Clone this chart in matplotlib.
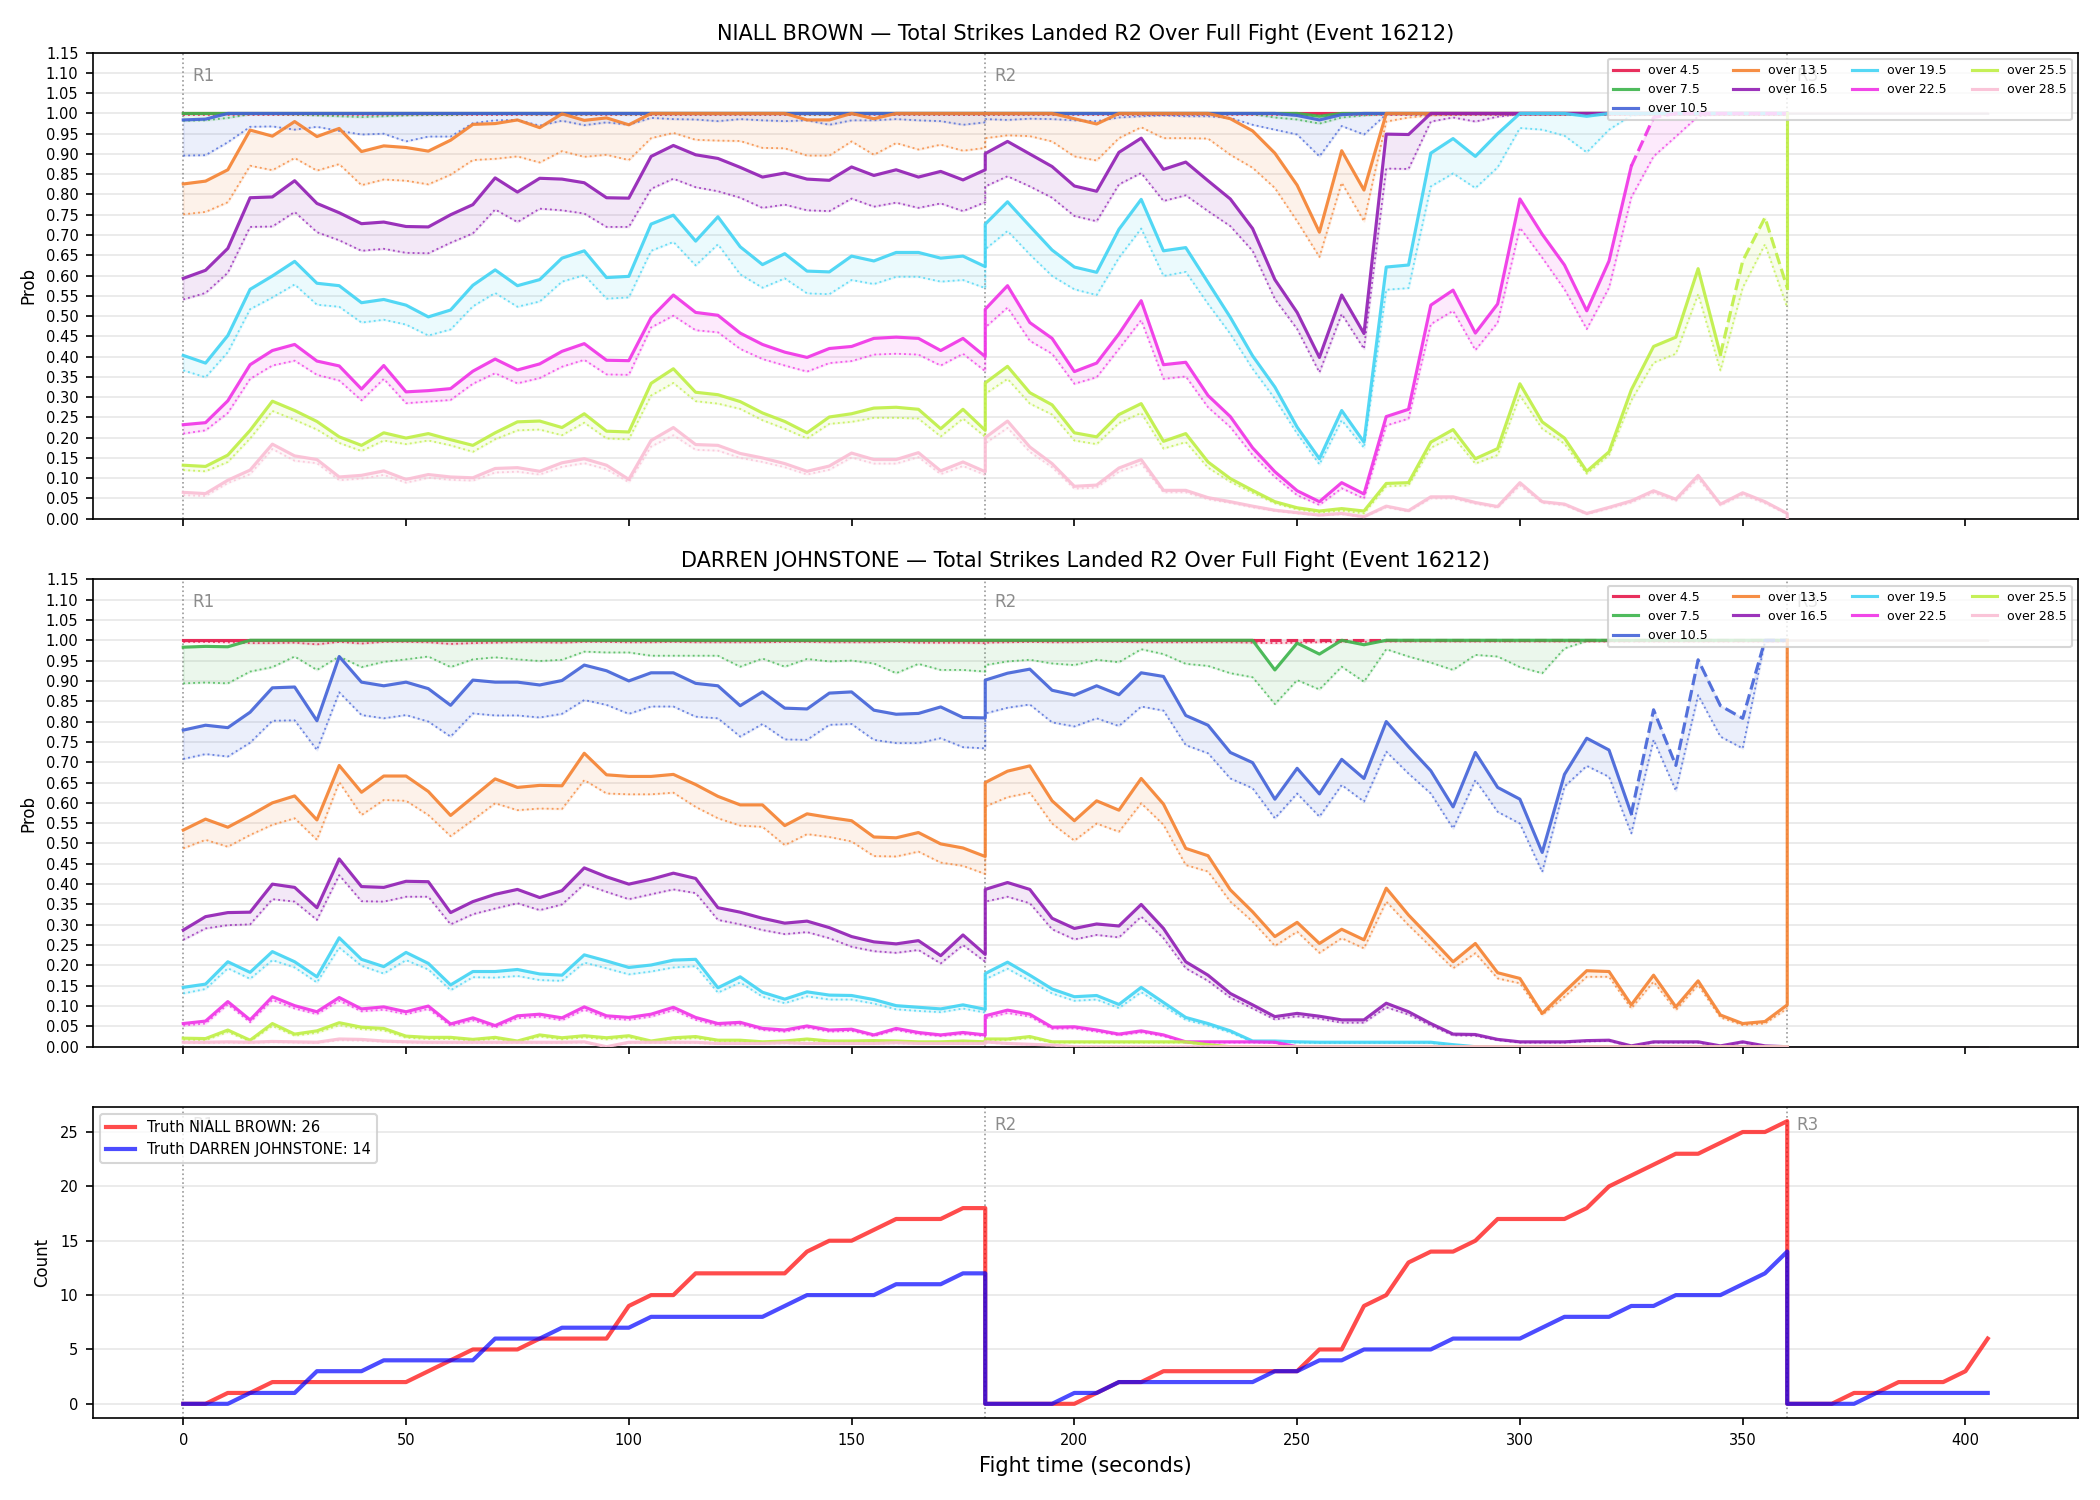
import matplotlib
matplotlib.use("Agg")
import matplotlib.pyplot as plt
import numpy as np

# ---------------- time grid (seconds of fight time) ----------------
T_R1 = list(range(0, 181, 5))
T_R2 = list(range(180, 361, 5))
T_R3 = list(range(360, 406, 5))

LINES = ["over 4.5", "over 7.5", "over 10.5", "over 13.5", "over 16.5",
         "over 19.5", "over 22.5", "over 25.5", "over 28.5"]
COLORS = ["#e6194b", "#3cb44b", "#4363d8", "#f58231", "#911eb4",
          "#42d4f4", "#f032e6", "#bfef45", "#fabed4"]

# ================= NIALL BROWN (top panel) =================
NB_O45 = [1,1,1,1,1,1,1,1,1,1, 1,1,1,1,1,1,1,1,1,1, 1,1,1,1,1,1,1,1,1,1, 1,1,1,1,1,1,1,
          1,1,1,1,1,1,1,1,1,1, 1,1,1,1,1,1,1,1,1,1, 1,1,1,1,1,1,1,1,1,1, 1,1,1,1,1,1,1]
NB_O45_LO = [0.997,0.997,0.997,0.997,0.997,0.997,0.997,0.997,0.997,0.997, 0.997,0.997,0.997,0.997,0.997,0.997,0.997,0.997,0.997,0.997,
             0.997,0.997,0.997,0.997,0.997,0.997,0.997,0.997,0.997,0.997, 0.997,0.997,0.997,0.997,0.997,0.997,0.997,
             0.997,0.997,0.997,0.997,0.997,0.997,0.997,0.997,0.997,0.997, 0.997,0.997,0.997,0.997,0.997,0.997,0.997,0.997,0.997,0.997,
             0.997,0.997,0.997,0.997,0.997,0.997,0.997,0.997,0.997,0.997, 0.997,0.997,0.997,0.997,0.997,0.997,0.997]
NB_O75 = [1,1,1,1,1,1,1,1,1,1, 1,1,1,1,1,1,1,1,1,1, 1,1,1,1,1,1,1,1,1,1, 1,1,1,1,1,1,1,
          1,1,1,1,1,1,1,1,1,1, 1,1,1,1,1,0.993,1,1,1,1, 1,1,1,1,1,1,1,1,1,1, 1,1,1,1,1,1,1]
NB_O75_LO = [0.982,0.983,0.989,0.998,0.998,0.997,0.995,0.993,0.991,0.993, 0.995,0.996,0.996,0.998,0.998,0.998,0.997,0.998,0.997,0.998,
             0.997,0.998,0.998,0.998,0.998,0.998,0.998,0.998,0.997,0.997, 0.998,0.998,0.998,0.998,0.998,0.998,0.998,
             0.998,0.998,0.998,0.998,0.998,0.998,0.998,0.998,0.998,0.998, 0.998,0.998,0.998,0.990,0.985,0.975,0.990,0.995,0.998,0.998,
             0.998,0.998,0.998,0.998,0.998,0.998,0.998,0.998,0.998,0.998, 0.998,0.998,0.998,0.998,0.998,0.998,0.998]
NB_O105 = [0.984,0.986,1,1,1,1,1,1,1,1, 1,1,1,1,1,1,1,1,1,1, 1,1,1,1,1,1,1,1,1,1, 1,1,1,1,1,1,1,
           1,1,1,1,1,1,1,1,1,1, 1,1,1,1,0.995,0.984,0.997,1,1,1, 1,1,1,1,1,1,1,1,1,1, 1,1,1,1,1,1,1]
NB_O105_LO = [0.896,0.897,0.929,0.967,0.968,0.960,0.967,0.957,0.948,0.950, 0.931,0.943,0.943,0.976,0.983,0.984,0.970,0.982,0.971,0.978,
              0.972,0.989,0.986,0.985,0.981,0.986,0.983,0.981,0.983,0.972, 0.983,0.983,0.986,0.983,0.981,0.972,0.978,
              0.986,0.984,0.987,0.986,0.983,0.981,0.990,0.993,0.995,0.993, 0.993,0.989,0.972,0.960,0.948,0.894,0.969,0.948,0.998,0.998,
              0.998,0.998,0.998,0.998,0.998,0.998,0.998,0.998,0.998,0.998, 0.998,0.998,0.998,0.998,0.998,0.998,0.998]
NB_O135 = [0.826,0.833,0.861,0.959,0.944,0.980,0.943,0.963,0.906,0.920, 0.916,0.907,0.934,0.973,0.975,0.984,0.965,0.999,0.983,0.989,
           0.972,1,1,1,1,1,1,1,0.984,0.984, 1,0.987,1,1,1,1,1,
           1,1,1,1,0.987,0.974,1,1,1,1, 1,0.987,0.957,0.902,0.823,0.707,0.908,0.811,1,1,
           1,1,1,1,1,1,1,1,1,1, 1,1,1,1,1,1,1]
NB_O135_LO = [0.751,0.757,0.781,0.871,0.860,0.890,0.859,0.875,0.823,0.837, 0.834,0.825,0.849,0.885,0.888,0.894,0.879,0.907,0.893,0.898,
              0.885,0.939,0.952,0.935,0.933,0.932,0.915,0.914,0.896,0.896, 0.931,0.898,0.927,0.911,0.923,0.908,0.915,
              0.939,0.946,0.944,0.931,0.894,0.884,0.939,0.966,0.939,0.939, 0.938,0.898,0.866,0.816,0.734,0.646,0.829,0.734,0.980,0.990,
              0.995,0.997,0.998,0.998,0.998,0.998,0.998,0.998,0.998,0.998, 0.998,0.998,0.998,0.998,0.998,0.998,0.998]
NB_O165 = [0.593,0.613,0.667,0.792,0.794,0.834,0.778,0.755,0.728,0.732, 0.721,0.720,0.750,0.775,0.841,0.806,0.840,0.838,0.829,0.792,
           0.791,0.894,0.921,0.898,0.889,0.867,0.843,0.853,0.838,0.835, 0.868,0.847,0.861,0.843,0.857,0.836,0.861,
           0.901,0.931,0.900,0.869,0.821,0.808,0.904,0.939,0.862,0.880, 0.834,0.789,0.716,0.590,0.509,0.398,0.552,0.457,0.949,0.948,
           1,1,1,1,1,1,1,1,1,1, 1,1,1,1,1,1,1]
NB_O165_LO = [0.541,0.557,0.607,0.720,0.721,0.757,0.707,0.687,0.661,0.666, 0.656,0.655,0.681,0.704,0.763,0.732,0.765,0.761,0.753,0.720,
              0.720,0.814,0.839,0.818,0.808,0.792,0.767,0.775,0.761,0.759, 0.790,0.770,0.780,0.767,0.778,0.759,0.781,
              0.820,0.845,0.820,0.792,0.747,0.734,0.825,0.853,0.784,0.798, 0.759,0.722,0.661,0.542,0.468,0.361,0.505,0.419,0.864,0.863,
              0.980,0.990,0.980,0.992,0.998,0.998,0.998,0.998,0.998,0.998, 0.998,0.998,0.998,0.998,0.998,0.998,0.998]
NB_O195 = [0.403,0.384,0.452,0.566,0.599,0.635,0.581,0.575,0.533,0.541, 0.527,0.498,0.515,0.576,0.614,0.575,0.590,0.643,0.661,0.595,
           0.598,0.727,0.749,0.685,0.745,0.671,0.627,0.654,0.611,0.609, 0.648,0.636,0.657,0.657,0.643,0.648,0.622,
           0.727,0.782,0.722,0.663,0.621,0.608,0.714,0.788,0.661,0.669, 0.583,0.497,0.402,0.325,0.226,0.148,0.267,0.189,0.621,0.626,
           0.902,0.938,0.894,0.950,1,1,1,0.993,1,1, 1,1,1,1,1,1,1]
NB_O195_LO = [0.366,0.349,0.411,0.517,0.546,0.578,0.528,0.523,0.484,0.491, 0.479,0.452,0.467,0.524,0.557,0.523,0.536,0.585,0.601,0.543,
              0.546,0.661,0.683,0.625,0.677,0.603,0.570,0.593,0.556,0.554, 0.589,0.579,0.597,0.597,0.585,0.589,0.569,
              0.665,0.710,0.652,0.599,0.566,0.552,0.644,0.716,0.599,0.609, 0.530,0.456,0.370,0.296,0.210,0.134,0.243,0.175,0.565,0.569,
              0.820,0.852,0.816,0.867,0.964,0.960,0.945,0.904,0.960,0.995, 0.998,0.998,0.998,0.998,0.998,0.998,0.998]
NB_O225 = [0.232,0.237,0.291,0.380,0.415,0.430,0.389,0.377,0.320,0.378, 0.313,0.316,0.321,0.364,0.394,0.367,0.382,0.413,0.432,0.391,
           0.390,0.496,0.552,0.509,0.502,0.458,0.430,0.411,0.398,0.420, 0.425,0.445,0.448,0.445,0.415,0.445,0.400,
           0.517,0.575,0.484,0.445,0.363,0.384,0.456,0.538,0.380,0.386, 0.304,0.252,0.175,0.116,0.069,0.042,0.089,0.061,0.252,0.270,
           0.527,0.564,0.458,0.530,0.789,0.702,0.626,0.513,0.636,0.870, 0.990,1,1,1,1,1,1]
NB_O225_LO = [0.210,0.218,0.261,0.345,0.378,0.390,0.355,0.341,0.292,0.345, 0.285,0.289,0.293,0.333,0.359,0.334,0.347,0.375,0.392,0.356,
              0.355,0.472,0.501,0.465,0.460,0.419,0.394,0.378,0.363,0.384, 0.389,0.405,0.407,0.405,0.378,0.407,0.364,
              0.472,0.521,0.439,0.407,0.333,0.349,0.419,0.490,0.345,0.351, 0.275,0.226,0.157,0.103,0.058,0.034,0.075,0.050,0.230,0.247,
              0.480,0.513,0.416,0.484,0.718,0.644,0.566,0.468,0.570,0.793, 0.894,0.943,0.993,0.998,0.998,0.998,0.998]
NB_O255 = [0.132,0.129,0.157,0.218,0.290,0.267,0.240,0.202,0.181,0.212, 0.199,0.210,0.195,0.181,0.212,0.239,0.241,0.225,0.259,0.216,
           0.214,0.334,0.370,0.312,0.306,0.289,0.261,0.240,0.212,0.251, 0.259,0.273,0.275,0.270,0.222,0.270,0.218,
           0.335,0.376,0.311,0.281,0.212,0.202,0.257,0.284,0.191,0.210, 0.140,0.099,0.070,0.042,0.027,0.019,0.025,0.019,0.087,0.089,
           0.189,0.220,0.148,0.173,0.333,0.239,0.199,0.117,0.165,0.318, 0.425,0.448,0.617,0.405,0.636,0.743,0.570]
NB_O255_LO = [0.120,0.117,0.140,0.198,0.266,0.244,0.220,0.187,0.167,0.193, 0.184,0.193,0.181,0.165,0.196,0.218,0.220,0.206,0.237,0.198,
              0.196,0.304,0.335,0.290,0.284,0.271,0.243,0.222,0.198,0.234, 0.239,0.249,0.249,0.247,0.203,0.247,0.202,
              0.308,0.345,0.284,0.257,0.193,0.184,0.236,0.261,0.173,0.189, 0.126,0.091,0.064,0.038,0.023,0.015,0.020,0.013,0.080,0.082,
              0.175,0.202,0.136,0.157,0.304,0.222,0.185,0.111,0.157,0.292, 0.385,0.407,0.554,0.366,0.570,0.677,0.521]
NB_O285 = [0.065,0.062,0.095,0.120,0.184,0.155,0.146,0.103,0.107,0.118, 0.097,0.109,0.103,0.101,0.124,0.126,0.117,0.138,0.148,0.132,
           0.097,0.193,0.225,0.183,0.181,0.161,0.150,0.136,0.117,0.130, 0.162,0.146,0.146,0.163,0.118,0.140,0.116,
           0.200,0.241,0.177,0.136,0.080,0.083,0.125,0.146,0.070,0.070, 0.052,0.042,0.031,0.021,0.015,0.009,0.013,0.005,0.031,0.020,
           0.054,0.054,0.040,0.030,0.089,0.042,0.036,0.013,0.028,0.044, 0.069,0.048,0.107,0.036,0.064,0.042,0.013]
NB_O285_LO = [0.058,0.056,0.088,0.110,0.172,0.143,0.137,0.095,0.099,0.108, 0.089,0.101,0.096,0.094,0.114,0.116,0.109,0.128,0.137,0.122,
              0.090,0.178,0.206,0.170,0.168,0.150,0.140,0.127,0.109,0.121, 0.151,0.136,0.136,0.152,0.110,0.130,0.108,
              0.186,0.224,0.165,0.127,0.074,0.077,0.116,0.136,0.065,0.065, 0.048,0.039,0.028,0.019,0.013,0.008,0.011,0.004,0.028,0.018,
              0.050,0.050,0.037,0.027,0.082,0.039,0.033,0.011,0.025,0.040, 0.064,0.044,0.099,0.033,0.059,0.038,0.011]
NB_SETTLED = [1, 1, 1, 1, 1, 1, 1, 1, 0]
NB_DASHED = {"over 22.5": (325, 360), "over 25.5": (345, 360)}

# ================= DARREN JOHNSTONE (middle panel) =================
DJ_O45 = [1,1,1,1,1,1,1,1,1,1, 1,1,1,1,1,1,1,1,1,1, 1,1,1,1,1,1,1,1,1,1, 1,1,1,1,1,1,1,
          1,1,1,1,1,1,1,1,1,1, 1,1,1,1,1,1,1,1,1,1, 1,1,1,1,1,1,1,1,1,1, 1,1,1,1,1,1,1]
DJ_O45_LO = [0.996,0.996,0.995,0.993,0.993,0.994,0.990,0.996,0.992,0.996, 0.996,0.995,0.991,0.993,0.994,0.995,0.995,0.994,0.996,0.996,
             0.995,0.995,0.996,0.995,0.995,0.995,0.995,0.996,0.996,0.995, 0.995,0.995,0.996,0.994,0.994,0.994,0.993,
             0.994,0.995,0.996,0.995,0.995,0.996,0.996,0.995,0.995,0.995, 0.995,0.995,0.994,0.993,0.994,0.995,0.996,0.996,0.997,0.997,
             0.997,0.997,0.997,0.997,0.997,0.997,0.997,0.997,0.997,0.997, 0.997,0.997,0.997,0.997,0.997,0.997,0.997]
DJ_O75 = [0.983,0.985,0.984,1,1,1,1,1,1,1, 1,1,1,1,1,1,1,1,1,1, 1,1,1,1,1,1,1,1,1,1, 1,1,1,1,1,1,1,
          1,1,1,1,1,1,1,1,1,1, 1,1,1,0.927,0.993,0.966,1,0.989,1,1, 1,1,1,1,1,1,1,1,1,1, 1,1,1,1,1,1,1]
DJ_O75_LO = [0.894,0.896,0.894,0.923,0.934,0.960,0.927,0.960,0.934,0.947, 0.953,0.960,0.934,0.953,0.958,0.953,0.949,0.952,0.972,0.970,
             0.970,0.962,0.962,0.962,0.962,0.935,0.955,0.935,0.954,0.948, 0.950,0.943,0.919,0.942,0.927,0.927,0.923,
             0.939,0.948,0.952,0.943,0.939,0.952,0.946,0.978,0.966,0.942, 0.937,0.919,0.909,0.843,0.902,0.879,0.935,0.898,0.978,0.960,
             0.945,0.927,0.964,0.960,0.934,0.919,0.980,0.998,0.998,0.998, 0.998,0.998,0.998,0.998,0.998,0.998,0.998]
DJ_O105 = [0.779,0.791,0.785,0.823,0.883,0.885,0.802,0.960,0.897,0.888, 0.897,0.881,0.840,0.902,0.897,0.897,0.890,0.901,0.939,0.925,
           0.900,0.920,0.920,0.894,0.888,0.839,0.873,0.833,0.831,0.870, 0.873,0.828,0.818,0.820,0.836,0.810,0.809,
           0.902,0.919,0.929,0.877,0.865,0.888,0.866,0.920,0.911,0.815, 0.791,0.724,0.699,0.609,0.685,0.622,0.707,0.660,0.800,0.738,
           0.679,0.590,0.724,0.638,0.609,0.478,0.670,0.759,0.730,0.573, 0.829,0.692,0.952,0.839,0.808,1,1]
DJ_O105_LO = [0.708,0.720,0.714,0.748,0.802,0.803,0.730,0.872,0.816,0.808, 0.816,0.800,0.763,0.820,0.815,0.815,0.810,0.819,0.853,0.841,
              0.819,0.837,0.837,0.812,0.808,0.763,0.794,0.756,0.755,0.792, 0.794,0.755,0.747,0.747,0.759,0.737,0.734,
              0.820,0.834,0.842,0.798,0.788,0.808,0.789,0.837,0.827,0.742, 0.722,0.660,0.636,0.562,0.623,0.566,0.644,0.603,0.726,0.672,
              0.623,0.537,0.656,0.578,0.549,0.430,0.640,0.691,0.664,0.525, 0.755,0.630,0.865,0.763,0.734,0.997,0.998]
DJ_O135 = [0.533,0.560,0.540,0.569,0.600,0.617,0.558,0.692,0.626,0.666, 0.666,0.628,0.569,0.614,0.659,0.638,0.643,0.642,0.722,0.669,
           0.665,0.665,0.670,0.645,0.616,0.595,0.595,0.544,0.573,0.564, 0.556,0.516,0.514,0.527,0.499,0.489,0.468,
           0.650,0.678,0.691,0.605,0.556,0.605,0.582,0.660,0.597,0.488, 0.470,0.386,0.332,0.271,0.306,0.254,0.289,0.263,0.390,0.324,
           0.267,0.209,0.254,0.182,0.168,0.082,0.135,0.187,0.185,0.103, 0.176,0.098,0.162,0.078,0.057,0.062,0.103]
DJ_O135_LO = [0.488,0.509,0.492,0.521,0.546,0.562,0.509,0.651,0.570,0.607, 0.605,0.570,0.518,0.558,0.599,0.582,0.586,0.585,0.656,0.623,
              0.621,0.621,0.625,0.590,0.562,0.544,0.541,0.496,0.523,0.516, 0.505,0.469,0.468,0.480,0.453,0.445,0.425,
              0.591,0.614,0.625,0.549,0.507,0.549,0.529,0.599,0.546,0.447, 0.431,0.357,0.308,0.248,0.283,0.231,0.267,0.242,0.357,0.299,
              0.246,0.193,0.230,0.168,0.156,0.078,0.123,0.172,0.172,0.094, 0.160,0.090,0.152,0.072,0.053,0.057,0.094]
DJ_O165 = [0.287,0.320,0.330,0.331,0.400,0.392,0.342,0.462,0.394,0.392, 0.407,0.406,0.330,0.357,0.375,0.387,0.367,0.384,0.440,0.418,
           0.400,0.412,0.427,0.414,0.342,0.331,0.316,0.304,0.309,0.293, 0.271,0.258,0.253,0.261,0.224,0.275,0.227,
           0.387,0.404,0.387,0.316,0.291,0.302,0.297,0.350,0.291,0.209, 0.176,0.131,0.103,0.074,0.082,0.075,0.066,0.066,0.107,0.086,
           0.057,0.031,0.030,0.018,0.012,0.012,0.012,0.015,0.016,0.002, 0.012,0.012,0.012,0.002,0.012,0.002,0.0]
DJ_O165_LO = [0.263,0.291,0.299,0.301,0.363,0.357,0.312,0.422,0.358,0.357, 0.369,0.369,0.301,0.326,0.340,0.353,0.336,0.350,0.400,0.381,
              0.363,0.375,0.387,0.378,0.312,0.301,0.287,0.277,0.282,0.267, 0.246,0.235,0.231,0.238,0.205,0.250,0.209,
              0.357,0.369,0.353,0.289,0.264,0.275,0.269,0.320,0.267,0.193, 0.162,0.121,0.094,0.067,0.075,0.069,0.059,0.059,0.097,0.079,
              0.052,0.028,0.027,0.016,0.010,0.010,0.010,0.013,0.014,0.001, 0.010,0.010,0.010,0.001,0.010,0.001,0.0]
DJ_O195 = [0.146,0.154,0.209,0.183,0.234,0.209,0.172,0.268,0.215,0.197, 0.232,0.205,0.152,0.185,0.185,0.190,0.179,0.176,0.226,0.211,
           0.195,0.201,0.213,0.215,0.145,0.172,0.134,0.117,0.135,0.127, 0.126,0.116,0.101,0.097,0.093,0.103,0.092,
           0.180,0.208,0.176,0.142,0.123,0.126,0.104,0.146,0.109,0.072, 0.057,0.039,0.014,0.014,0.012,0.011,0.011,0.011,0.011,0.011,
           0.011,0.005,0,0,0,0,0,0,0,0, 0,0,0,0,0,0,0]
DJ_O195_LO = [0.131,0.142,0.193,0.167,0.213,0.195,0.158,0.244,0.199,0.180, 0.213,0.190,0.139,0.171,0.170,0.174,0.164,0.162,0.207,0.193,
              0.178,0.185,0.195,0.198,0.133,0.158,0.123,0.107,0.124,0.116, 0.116,0.106,0.092,0.088,0.085,0.094,0.084,
              0.166,0.192,0.162,0.131,0.113,0.116,0.095,0.134,0.100,0.066, 0.052,0.035,0.012,0.012,0.010,0.009,0.009,0.009,0.009,0.009,
              0.009,0.004,0,0,0,0,0,0,0,0, 0,0,0,0,0,0,0]
DJ_O225 = [0.057,0.063,0.111,0.066,0.123,0.101,0.086,0.121,0.093,0.098, 0.086,0.100,0.056,0.071,0.052,0.076,0.080,0.071,0.098,0.076,
           0.072,0.080,0.097,0.072,0.057,0.060,0.045,0.041,0.051,0.041, 0.043,0.029,0.045,0.035,0.029,0.035,0.029,
           0.076,0.090,0.080,0.048,0.049,0.041,0.031,0.039,0.029,0.012, 0.012,0.012,0.012,0.011,0,0,0,0,0,0,
           0,0,0,0,0,0,0,0,0,0, 0,0,0,0,0,0,0]
DJ_O225_LO = [0.052,0.057,0.104,0.060,0.115,0.094,0.080,0.113,0.087,0.091, 0.080,0.093,0.051,0.065,0.047,0.070,0.074,0.065,0.091,0.070,
              0.066,0.074,0.090,0.066,0.052,0.055,0.041,0.037,0.047,0.037, 0.039,0.026,0.041,0.031,0.026,0.031,0.026,
              0.070,0.083,0.074,0.044,0.045,0.037,0.028,0.035,0.026,0.010, 0.010,0.010,0.010,0.009,0,0,0,0,0,0,
              0,0,0,0,0,0,0,0,0,0, 0,0,0,0,0,0,0]
DJ_O255 = [0.021,0.020,0.041,0.016,0.057,0.031,0.039,0.059,0.048,0.045, 0.026,0.023,0.023,0.018,0.023,0.014,0.029,0.022,0.027,0.022,
           0.027,0.014,0.022,0.025,0.016,0.016,0.012,0.014,0.019,0.014, 0.014,0.015,0.014,0.012,0.012,0.014,0.012,
           0.019,0.019,0.025,0.012,0.012,0.012,0.012,0.012,0.012,0.012, 0.005,0,0,0,0,0,0,0,0,0,
           0,0,0,0,0,0,0,0,0,0, 0,0,0,0,0,0,0]
DJ_O255_LO = [0.017,0.016,0.036,0.013,0.051,0.027,0.034,0.053,0.043,0.040, 0.022,0.019,0.019,0.015,0.019,0.011,0.025,0.018,0.023,0.018,
              0.023,0.011,0.018,0.021,0.013,0.013,0.010,0.011,0.016,0.011, 0.011,0.012,0.011,0.010,0.010,0.011,0.010,
              0.016,0.016,0.021,0.010,0.010,0.010,0.010,0.010,0.010,0.010, 0.004,0,0,0,0,0,0,0,0,0,
              0,0,0,0,0,0,0,0,0,0, 0,0,0,0,0,0,0]
DJ_O285 = [0.011,0.011,0.012,0.011,0.013,0.012,0.011,0.019,0.018,0.014, 0.012,0.011,0.011,0.011,0.011,0.011,0.011,0.011,0.012,0.000,
           0.011,0.011,0.011,0.011,0.008,0.008,0.008,0.010,0.008,0.008, 0.008,0.008,0.010,0.008,0.008,0.008,0.008,
           0.012,0.008,0.006,0.004,0,0,0,0,0,0, 0,0,0,0,0,0,0,0,0,0,
           0,0,0,0,0,0,0,0,0,0, 0,0,0,0,0,0,0]
DJ_O285_LO = [0.009,0.009,0.010,0.009,0.011,0.010,0.009,0.016,0.015,0.012, 0.010,0.009,0.009,0.009,0.009,0.009,0.009,0.009,0.010,0.000,
              0.009,0.009,0.009,0.009,0.007,0.007,0.007,0.008,0.007,0.007, 0.007,0.007,0.008,0.007,0.007,0.007,0.007,
              0.010,0.007,0.005,0.003,0,0,0,0,0,0, 0,0,0,0,0,0,0,0,0,0,
              0,0,0,0,0,0,0,0,0,0, 0,0,0,0,0,0,0]
DJ_SETTLED = [1, 1, 1, 1, 0, 0, 0, 0, 0]
DJ_DASHED = {"over 4.5": (240, 360), "over 10.5": (325, 360)}

# ================= truth counts (bottom panel) =================
NB_TRUTH = [0,0,1,1,2,2,2,2,2,2, 2,3,4,5,5,5,6,6,6,6, 9,10,10,12,12,12,12,12,14,15, 15,16,17,17,17,18,18,
            0,0,0,0,0,1,2,2,3,3, 3,3,3,3,3,5,5,9,10,13, 14,14,15,17,17,17,17,18,20,21, 22,23,23,24,25,25,26,
            0,0,0,1,1,2,2,2,3,6]
DJ_TRUTH = [0,0,0,1,1,1,3,3,3,4, 4,4,4,4,6,6,6,7,7,7, 7,8,8,8,8,8,8,9,10,10, 10,10,11,11,11,12,12,
            0,0,0,0,1,1,2,2,2,2, 2,2,2,3,3,4,4,5,5,5, 5,6,6,6,6,7,8,8,8,9, 9,10,10,10,11,12,14,
            0,0,0,0,1,1,1,1,1,1]
NB_NAME = "NIALL BROWN"
DJ_NAME = "DARREN JOHNSTONE"
NB_FINAL = 26
DJ_FINAL = 14

NB_MAIN = [NB_O45, NB_O75, NB_O105, NB_O135, NB_O165, NB_O195, NB_O225, NB_O255, NB_O285]
NB_LOW = [NB_O45_LO, NB_O75_LO, NB_O105_LO, NB_O135_LO, NB_O165_LO, NB_O195_LO, NB_O225_LO, NB_O255_LO, NB_O285_LO]
DJ_MAIN = [DJ_O45, DJ_O75, DJ_O105, DJ_O135, DJ_O165, DJ_O195, DJ_O225, DJ_O255, DJ_O285]
DJ_LOW = [DJ_O45_LO, DJ_O75_LO, DJ_O105_LO, DJ_O135_LO, DJ_O165_LO, DJ_O195_LO, DJ_O225_LO, DJ_O255_LO, DJ_O285_LO]

ROUNDS = [(0, "R1"), (180, "R2"), (360, "R3")]
TICK_FS = 7


def round_marks(ax):
    for t, lab in ROUNDS:
        ax.axvline(t, color="gray", ls=":", lw=0.8, alpha=0.8, zorder=1)
        ax.text(t + 2, 0.97, lab, transform=ax.get_xaxis_transform(), ha="left", va="top",
                fontsize=8, color="gray", alpha=0.9)


def draw_panel(ax, mains, lows, settled, dashed, title):
    t12 = np.array(T_R1 + T_R2, dtype=float)
    t3 = np.array(T_R3, dtype=float)
    handles = []
    for name, col, main, low, s in zip(LINES, COLORS, mains, lows, settled):
        main = np.asarray(main, dtype=float)
        low = np.asarray(low, dtype=float)
        if len(main) != len(t12) or len(low) != len(t12):
            raise ValueError(f"{title[:12]} {name}: main {len(main)} low {len(low)} expected {len(t12)}")
        xf = np.concatenate([t12, t3])
        up = np.concatenate([main, np.full(len(t3), float(s))])
        lo = np.concatenate([low, np.full(len(t3), float(s))])
        ax.fill_between(xf, lo, up, color=col, alpha=0.1, zorder=2)
        ax.plot(t12, low, color=col, ls=":", lw=0.9, alpha=0.75, zorder=3)
        xl = np.append(t12, 360.0)
        yl = np.append(main, float(s))
        rng = dashed.get(name)
        flags = []
        for k in range(len(xl) - 1):
            isd = (rng is not None and k + 1 < len(t12)
                   and xl[k] >= rng[0] and xl[k + 1] <= rng[1])
            flags.append(isd)
        start = 0
        first = True
        for k in range(1, len(flags) + 1):
            if k == len(flags) or flags[k] != flags[start]:
                ls = "--" if flags[start] else "-"
                h, = ax.plot(xl[start:k + 1], yl[start:k + 1], color=col, ls=ls, lw=1.5,
                             alpha=0.9, zorder=4, label=name if first else None)
                if first:
                    handles.append(h)
                first = False
                start = k
    ax.set_ylim(0, 1.15)
    ax.set_yticks(np.arange(0, 1.151, 0.05))
    ax.yaxis.set_major_formatter(matplotlib.ticker.FormatStrFormatter("%.2f"))
    ax.set_ylabel("Prob", fontsize=8)
    ax.set_title(title, fontsize=10)
    ax.grid(True, axis="y", alpha=0.3)
    ax.set_axisbelow(True)
    round_marks(ax)
    ax.tick_params(labelsize=TICK_FS, labelbottom=False)
    ax.legend(handles=handles, loc="upper right", ncol=4, fontsize=6)


fig = plt.figure(figsize=(14, 10), dpi=150)
L, W = 0.0443, 0.9452
ax1 = fig.add_axes([L, 0.6542, W, 0.3107])
ax2 = fig.add_axes([L, 0.3022, W, 0.3116], sharex=ax1)
ax3 = fig.add_axes([L, 0.0547, W, 0.2073], sharex=ax1)

draw_panel(ax1, NB_MAIN, NB_LOW, NB_SETTLED, NB_DASHED,
           f"{NB_NAME} — Total Strikes Landed R2 Over Full Fight (Event 16212)")
draw_panel(ax2, DJ_MAIN, DJ_LOW, DJ_SETTLED, DJ_DASHED,
           f"{DJ_NAME} — Total Strikes Landed R2 Over Full Fight (Event 16212)")

tt = T_R1 + T_R2 + T_R3
ax3.plot(tt, NB_TRUTH, color="red", lw=2, alpha=0.7, label=f"Truth {NB_NAME}: {NB_FINAL}")
ax3.plot(tt, DJ_TRUTH, color="blue", lw=2, alpha=0.7, label=f"Truth {DJ_NAME}: {DJ_FINAL}")
ax3.set_ylim(-1.3, 27.3)
ax3.set_yticks([0, 5, 10, 15, 20, 25])
ax3.set_ylabel("Count", fontsize=8)
ax3.set_xlabel("Fight time (seconds)", fontsize=10)
ax3.grid(True, axis="y", alpha=0.3)
ax3.set_axisbelow(True)
round_marks(ax3)
ax3.tick_params(labelsize=TICK_FS)
ax3.legend(loc="upper left", fontsize=7)
ax3.set_xlim(-20.25, 425.25)
ax3.set_xticks([0, 50, 100, 150, 200, 250, 300, 350, 400])

fig.savefig("out.png", dpi=150)
